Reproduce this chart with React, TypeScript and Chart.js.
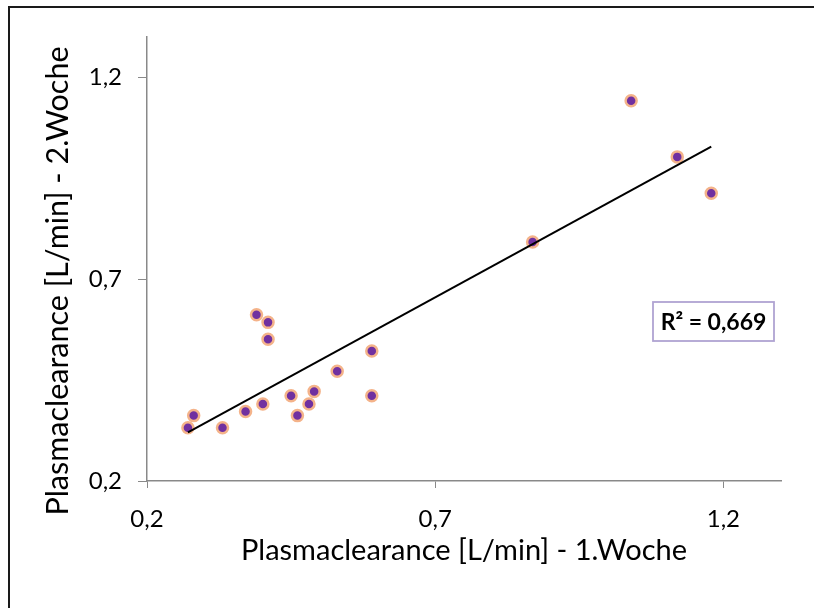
import React, { useEffect, useRef } from 'react';
import { Chart, registerables } from 'chart.js';

Chart.register(...registerables);

// ---- data ----
const week1 = [0.271, 0.281, 0.331, 0.371, 0.390, 0.401, 0.410, 0.410, 0.450, 0.461, 0.481, 0.490, 0.530, 0.590, 0.590, 0.869, 1.040, 1.120, 1.179];
const week2 = [0.332, 0.362, 0.332, 0.372, 0.612, 0.391, 0.593, 0.551, 0.411, 0.362, 0.391, 0.422, 0.472, 0.522, 0.411, 0.792, 1.142, 1.003, 0.913];
const xTicks = [0.2, 0.7, 1.2];
const yTicks = [0.2, 0.7, 1.2];
const axisMin = 0.2;
const axisMax = 1.3;
const rSquaredText = 'R² = 0,669';
const xTitle = 'Plasmaclearance [L/min] - 1.Woche';
const yTitle = 'Plasmaclearance [L/min] - 2.Woche';

const FONT = 'Lato, "Open Sans", "DejaVu Sans", sans-serif';
const AXIS_GRAY = '#898989';

function linearFit(xs: number[], ys: number[]) {
  const n = xs.length;
  const mx = xs.reduce((a, b) => a + b, 0) / n;
  const my = ys.reduce((a, b) => a + b, 0) / n;
  let sxy = 0;
  let sxx = 0;
  for (let i = 0; i < n; i++) {
    sxy += (xs[i] - mx) * (ys[i] - my);
    sxx += (xs[i] - mx) * (xs[i] - mx);
  }
  const slope = sxy / sxx;
  return { slope, intercept: my - slope * mx };
}

const fmt = (v: number) => v.toFixed(1).replace('.', ',');

const r2Plugin = {
  id: 'r2box',
  afterDraw(chart: any) {
    const { ctx, chartArea } = chart;
    const w = 121;
    const h = 39;
    const left = chartArea.right - 128;
    const top = 302;
    ctx.save();
    ctx.fillStyle = '#ffffff';
    ctx.fillRect(left, top, w, h);
    ctx.strokeStyle = '#B0A3D2';
    ctx.lineWidth = 1.8;
    ctx.strokeRect(left, top, w, h);
    ctx.fillStyle = '#000000';
    ctx.font = `bold 23px ${FONT}`;
    ctx.textAlign = 'center';
    ctx.textBaseline = 'middle';
    ctx.fillText(rSquaredText, left + w / 2, top + h / 2 + 1);
    ctx.restore();
  },
};

// y-axis title, placed slightly below the plot centre as in the reference
const yTitlePlugin = {
  id: 'yTitle',
  afterDraw(chart: any) {
    const { ctx, chartArea } = chart;
    ctx.save();
    ctx.translate(58, (chartArea.top + chartArea.bottom) / 2 + 22);
    ctx.rotate(-Math.PI / 2);
    ctx.fillStyle = '#000000';
    ctx.font = `30.5px ${FONT}`;
    ctx.textAlign = 'center';
    ctx.textBaseline = 'middle';
    ctx.fillText(yTitle, 0, 0);
    ctx.restore();
  },
};

export default function App() {
  const canvasRef = useRef<HTMLCanvasElement | null>(null);

  useEffect(() => {
    const canvas = canvasRef.current;
    if (!canvas) return;
    const fit = linearFit(week1, week2);
    const minX = Math.min(...week1);
    const maxX = Math.max(...week1);
    const points = week1.map((x, i) => ({ x, y: week2[i] }));
    const trend = [
      { x: minX, y: fit.intercept + fit.slope * minX },
      { x: maxX, y: fit.intercept + fit.slope * maxX },
    ];

    const chart = new Chart(canvas, {
      type: 'scatter',
      data: {
        datasets: [
          {
            label: 'Trend',
            type: 'line',
            data: trend,
            borderColor: '#000000',
            borderWidth: 2,
            pointRadius: 0,
            fill: false,
            order: 0,
          } as any,
          {
            label: 'Plasmaclearance',
            data: points,
            backgroundColor: '#7030A0',
            borderColor: '#F4B38A',
            borderWidth: 2.5,
            pointRadius: 5.5,
            order: 1,
          },
        ],
      },
      options: {
        responsive: false,
        animation: false,
        layout: { padding: { left: 0, top: 37, right: 33, bottom: 0 } },
        plugins: {
          legend: { display: false },
          tooltip: { enabled: false },
        },
        scales: {
          x: {
            type: 'linear',
            min: axisMin,
            max: axisMax,
            afterBuildTicks: (scale: any) => {
              scale.ticks = xTicks.map((v) => ({ value: v }));
            },
            afterFit: (scale: any) => {
              scale.height = 127;
            },
            ticks: {
              callback: (v: any) => fmt(Number(v)),
              color: '#000000',
              font: { family: FONT, size: 24 },
              padding: 17,
              maxRotation: 0,
            },
            grid: {
              drawOnChartArea: false,
              drawTicks: true,
              tickLength: 7,
              color: AXIS_GRAY,
            },
            border: { display: true, color: AXIS_GRAY, width: 1.5 },
            title: {
              display: true,
              text: xTitle,
              color: '#000000',
              font: { family: FONT, size: 29 },
              padding: { top: 0, bottom: 40 },
            },
          },
          y: {
            type: 'linear',
            min: axisMin,
            max: axisMax,
            afterBuildTicks: (scale: any) => {
              scale.ticks = yTicks.map((v) => ({ value: v }));
            },
            afterFit: (scale: any) => {
              scale.width = 147;
            },
            ticks: {
              callback: (v: any) => fmt(Number(v)),
              color: '#000000',
              font: { family: FONT, size: 24 },
              padding: 16,
            },
            grid: {
              drawOnChartArea: false,
              drawTicks: true,
              tickLength: 9,
              color: AXIS_GRAY,
            },
            border: { display: true, color: AXIS_GRAY, width: 1.5 },
            title: { display: false },
          },
        },
      },
      plugins: [r2Plugin, yTitlePlugin],
    });
    return () => chart.destroy();
  }, []);

  return (
    <div style={{ position: 'absolute', left: 0, top: 0, width: 814, height: 608, background: '#ffffff', overflow: 'hidden' }}>
      <canvas
        ref={canvasRef}
        width={814}
        height={608}
        style={{ position: 'absolute', left: 0, top: 0, width: 814, height: 608, display: 'block' }}
      />
      <div style={{ position: 'absolute', left: 8, top: 6, width: 2, height: 602, background: '#1a1a1a' }} />
      <div style={{ position: 'absolute', left: 8, top: 6, width: 806, height: 2, background: '#1a1a1a' }} />
    </div>
  );
}
